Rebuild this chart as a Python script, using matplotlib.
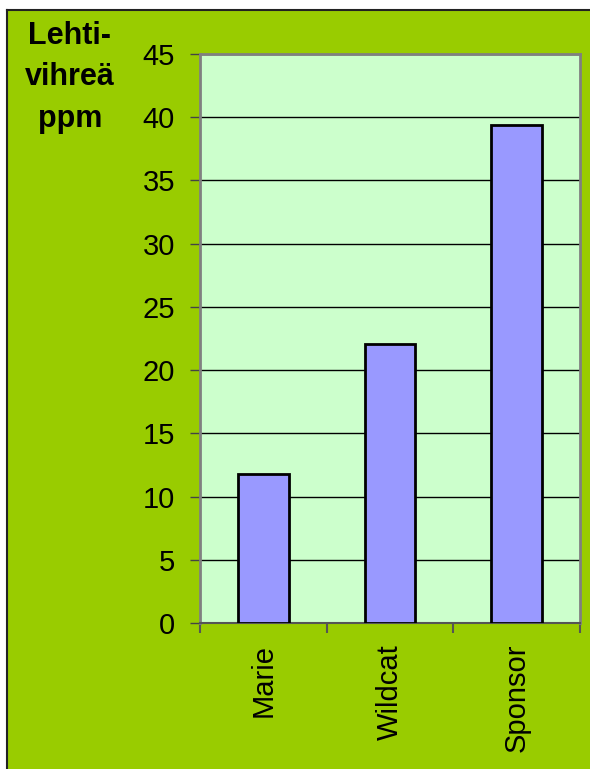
import numpy as np
import matplotlib.pyplot as plt
from matplotlib.patches import Rectangle
from matplotlib.lines import Line2D

# data
categories = ['Marie', 'Wildcat', 'Sponsor']
values = [11.8, 22.1, 39.4]
yticks = [0, 5, 10, 15, 20, 25, 30, 35, 40, 45]

plt.rcParams['font.family'] = ['Liberation Sans', 'DejaVu Sans']

W, H = 590, 769
fig = plt.figure(figsize=(W / 100, H / 100), dpi=100)
fig.patch.set_facecolor('white')

# green chart area with dark top/left border
fig.patches.append(Rectangle((8, 0), W - 8, H - 11, transform=None,
                             facecolor='#99CC00', edgecolor='none', zorder=-5))
fig.lines.append(Line2D([7, 7], [0, H - 10], transform=None, color='#222222', lw=1.5, zorder=-4))
fig.lines.append(Line2D([7, W], [H - 10, H - 10], transform=None, color='#222222', lw=1.5, zorder=-4))

ax = fig.add_axes([200 / W, 146 / H, 380 / W, 569 / H])
ax.set_facecolor('#CCFFCC')

x = np.arange(len(categories))
ax.bar(x, values, width=0.4, color='#9999FF', edgecolor='black', linewidth=2, zorder=3)

ax.set_xlim(-0.5, len(categories) - 0.5)
ax.set_ylim(0, 45)
ax.set_yticks(yticks)
ax.yaxis.grid(True, color='black', linewidth=1)
ax.set_axisbelow(True)

for s in ['left', 'top', 'right']:
    ax.spines[s].set_color('#808080')
    ax.spines[s].set_linewidth(2)
ax.spines['bottom'].set_color('#555555')
ax.spines['bottom'].set_linewidth(1.5)

ax.tick_params(axis='y', length=7, width=1, color='#444444', pad=11, labelsize=21)
ax.set_xticks(x)
ax.set_xticklabels(categories, rotation=90, va='top', ha='center')
ax.tick_params(axis='x', which='major', length=0, pad=15, labelsize=21)
ax.set_xticks(np.arange(-0.5, len(categories)), minor=True)
ax.tick_params(axis='x', which='minor', length=7, width=1.5, color='#555555')

fig.text(70 / W, 1 - 77 / H, 'Lehti-\nvihreä\nppm', ha='center', va='center',
         fontsize=22, fontweight='bold', linespacing=1.5)

fig.savefig('out.png', dpi=100)
